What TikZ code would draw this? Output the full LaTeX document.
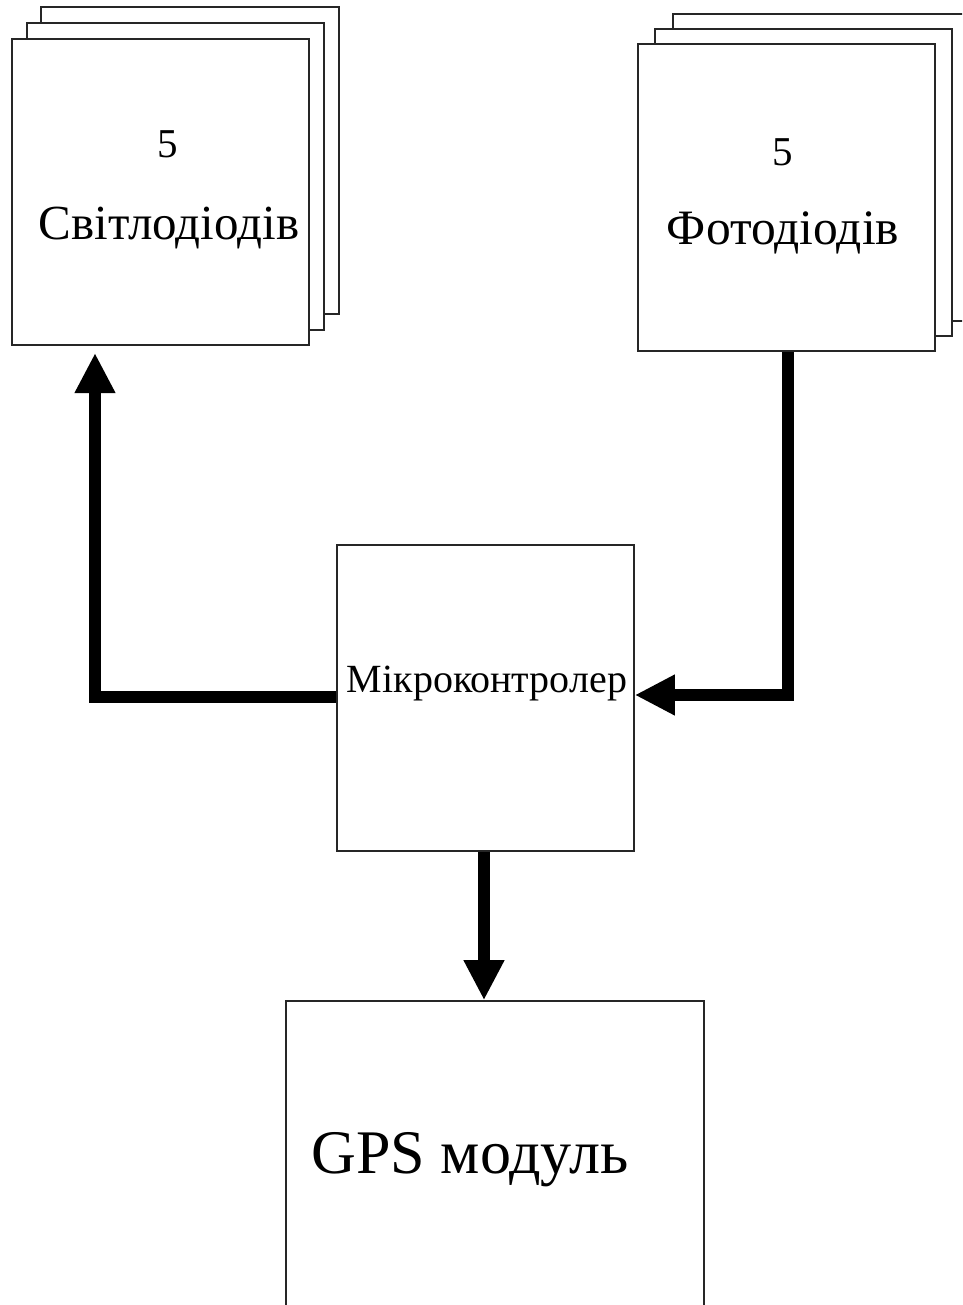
\documentclass[tikz,border=0pt]{standalone}
\usepackage{fontspec}
\setmainfont{Liberation Serif}
\usetikzlibrary{arrows.meta}
\begin{document}
\begin{tikzpicture}[x=1pt,y=-1pt,
  box/.style={draw=black!85,line width=1.6pt,fill=white,inner sep=0pt},
  lbl/.style={inner sep=0pt,anchor=base},
  conn/.style={line width=12pt,line join=miter,-{Triangle[width=38pt,length=40pt]}}]
\clip (0,0) rectangle (962,1305);
\fill[white] (0,0) rectangle (962,1305);
% left stack
\draw[box] (41,7) rectangle (339,314);
\draw[box] (27,23) rectangle (324,330);
\node[box,minimum width=297pt,minimum height=306pt] (led) at (160.5,192) {};
\node[lbl,font=\fontsize{41}{41}\selectfont] (led5) at (168,158) {5};
\node[lbl,font=\fontsize{49}{49}\selectfont] (ledt) at (169,240) {Світлодіодів};
% right stack
\draw[box] (673,14) rectangle (990,321);
\draw[box] (655,29) rectangle (952,336);
\node[box,minimum width=297pt,minimum height=307pt] (pd) at (786.5,197.5) {};
\node[lbl,font=\fontsize{41}{41}\selectfont] (pd5) at (783,166) {5};
\node[lbl,font=\fontsize{49.5}{49.5}\selectfont] (pdt) at (783,245) {Фотодіодів};
% microcontroller
\node[box,minimum width=297pt,minimum height=306pt] (mcu) at (485.5,698) {};
\node[lbl,font=\fontsize{40}{40}\selectfont] (mcut) at (487,692) {Мікроконтролер};
% GPS
\node[box,minimum width=418pt,minimum height=400pt] (gps) at (495,1201) {};
\node[lbl,font=\fontsize{62}{62}\selectfont] (gpst) at (470,1173) {GPS модуль};
% connectors
\coordinate (ledin) at (95,353);
\coordinate (c1) at (95,697);
\draw[conn] (mcu.west |- c1) -- (c1) -- (ledin);
\coordinate (c2) at (788,695);
\draw[conn] (pd.south -| c2) -- (c2) -- (mcu.east |- c2);
\draw[conn] (mcu.south -| 484,0) -- (gps.north -| 484,0);
\end{tikzpicture}
\end{document}
